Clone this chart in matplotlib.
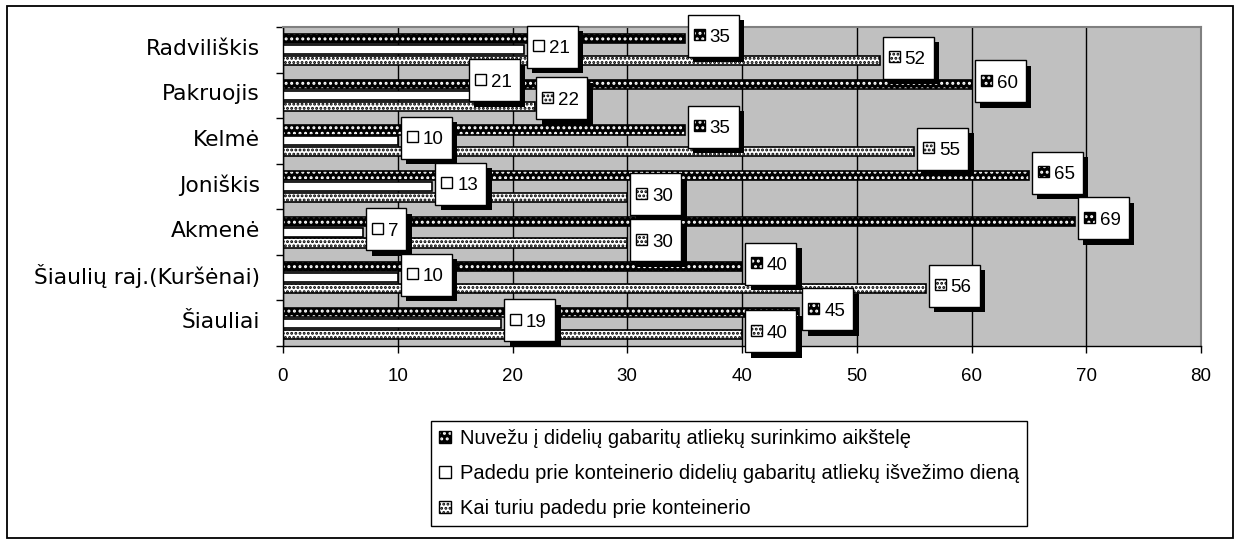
import matplotlib
matplotlib.use("Agg")
import matplotlib.pyplot as plt
from matplotlib.patches import Rectangle, Patch
from matplotlib.transforms import Affine2D, ScaledTranslation
import numpy as np

categories = ["Radviliškis", "Pakruojis", "Kelmė", "Joniškis", "Akmenė",
              "Šiaulių raj.(Kuršėnai)", "Šiauliai"]
nuvezu = [35, 60, 35, 65, 69, 40, 45]
padedu = [21, 21, 10, 13, 7, 10, 19]
kai_turiu = [52, 22, 55, 30, 30, 56, 40]
x_ticks = [0, 10, 20, 30, 40, 50, 60, 70, 80]
series_labels = ["Nuvežu į didelių gabaritų atliekų surinkimo aikštelę",
                 "Padedu prie konteinerio didelių gabaritų atliekų išvežimo dieną",
                 "Kai turiu padedu prie konteinerio"]

# manual nudges of a few data labels (series index, category index) -> (dx px, dy px up)
label_nudges = {(1, 1): (-58, 12), (2, 1): (-2, 5)}

plt.rcParams['font.family'] = ['Liberation Sans', 'DejaVu Sans']
plt.rcParams['hatch.linewidth'] = 1.4

W, H = 1238, 544
fig = plt.figure(figsize=(W / 100, H / 100), dpi=100)
ax = fig.add_axes([283 / W, 198 / H, (1201 - 283) / W, (517 - 198) / H])
ax.set_facecolor('#C0C0C0')

y = np.arange(len(categories))
bar_h = 0.2
off = 0.24
styles = [
    dict(face='black', hcol='white', hatch='...'),
    dict(face='white', hcol='black', hatch=None),
    dict(face='white', hcol='black', hatch='....'),
]
series = [nuvezu, padedu, kai_turiu]

for k, (vals, st) in enumerate(zip(series, styles)):
    pos = y + (k - 1) * off
    ax.barh(pos, vals, height=bar_h, color=st['face'], edgecolor=st['hcol'],
            hatch=st['hatch'], linewidth=0, zorder=2)
    ax.barh(pos, vals, height=bar_h, fill=False, edgecolor='black',
            linewidth=1.2, zorder=3)


def key_patch(k, xy, w, h, trans, z):
    st = styles[k]
    p = Rectangle(xy, w, h, facecolor=st['face'], edgecolor=st['hcol'],
                  hatch=st['hatch'], linewidth=0, transform=trans, zorder=z,
                  clip_on=False)
    p2 = Rectangle(xy, w, h, fill=False, edgecolor='black', linewidth=1,
                   transform=trans, zorder=z + 0.0001, clip_on=False)
    return [p, p2]


for k, vals in enumerate(series):
    pos = y + (k - 1) * off
    for ci, (v, p) in enumerate(zip(vals, pos)):
        trans = Affine2D() + ScaledTranslation(v, p, ax.transData)
        ndx, ndy = label_nudges.get((k, ci), (0, 0))
        txt = str(v)
        bw, bh = 29 + 11 * len(txt), 42
        left = 3 + ndx
        cy = 3 + ndy
        bottom = cy - bh / 2
        z = 10 + k * 0.01 + ci * 0.001
        ax.add_artist(Rectangle((left + 5.5, bottom - 5.5), bw, bh, facecolor='black',
                                edgecolor='none', transform=trans, zorder=z,
                                clip_on=False))
        ax.add_artist(Rectangle((left, bottom), bw, bh, facecolor='white',
                                edgecolor='black', linewidth=1, transform=trans,
                                zorder=z + 0.0002, clip_on=False))
        for a in key_patch(k, (left + 6, cy + 1 - 5.5), 11, 11, trans, z + 0.0003):
            ax.add_artist(a)
        ax.text(left + 22, cy - 6.5, txt, transform=trans, ha='left',
                va='baseline', fontsize=13.5, zorder=z + 0.0005, clip_on=False)

ax.set_xlim(0, 80)
ax.set_xticks(x_ticks)
ax.set_xticklabels([str(t) for t in x_ticks])
ax.tick_params(axis='x', direction='out', length=5, width=1, pad=11,
               labelsize=13.5, colors='black')

ax.set_ylim(len(categories) - 0.5, -0.5)
ax.set_yticks(np.arange(len(categories) + 1) - 0.5)
ax.set_yticklabels([])
ax.set_yticks(y - 0.07, minor=True)
ax.set_yticklabels(categories, minor=True, family=['DejaVu Sans'])
ax.tick_params(axis='y', which='major', direction='out', length=5, width=1)
ax.tick_params(axis='y', which='minor', length=0, pad=16.5, labelsize=15.7)

ax.set_axisbelow(True)
ax.xaxis.grid(True, color='black', linewidth=1)
ax.yaxis.grid(False)
for s in ['top', 'right']:
    ax.spines[s].set_color('#808080')
    ax.spines[s].set_linewidth(1.5)
for s in ['left', 'bottom']:
    ax.spines[s].set_color('black')
    ax.spines[s].set_linewidth(1)

handles = []
for k, st in enumerate(styles):
    h1 = Patch(facecolor=st['face'], edgecolor=st['hcol'], hatch=st['hatch'], linewidth=0)
    h2 = Patch(fill=False, edgecolor='black', linewidth=1)
    handles.append((h1, h2))
leg = fig.legend(handles, series_labels, loc='upper left',
                 bbox_to_anchor=(431 / W, 1 - 421 / H), frameon=True,
                 fancybox=False, edgecolor='black', framealpha=1,
                 fontsize=14.5, handlelength=0.58, handleheight=0.58,
                 handletextpad=0.45, labelspacing=0.8, borderpad=0.4,
                 borderaxespad=0)
leg.get_frame().set_linewidth(1)

fig.add_artist(Rectangle((7 / W, 6 / H), 1226 / W, 532 / H,
                         transform=fig.transFigure, fill=False,
                         edgecolor='black', linewidth=1.3))

fig.savefig('out.png', dpi=100)
